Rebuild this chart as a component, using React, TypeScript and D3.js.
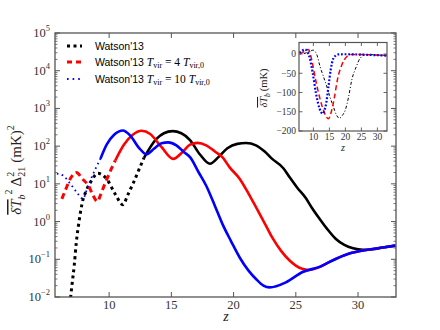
import React from "react";
import * as d3 from "d3";

// ---- Main panel data: z, (δT_b)^2 Δ^2_21 in mK^2 ----
const blackLowZ = [6.9, 7.0, 7.2, 7.36, 7.58, 7.82, 8.16, 8.54, 9.1, 9.8, 10.48, 11.1, 11.5, 11.95, 12.5, 12.8];
const blackLowV = [0.0095, 0.019, 0.071, 0.275, 1.0, 2.95, 6.6, 11.5, 19, 13.5, 5.4, 2.8, 5.1, 10.7, 28.8, 49];
const blackHighZ = [12.8, 13.8, 14.4, 15.1, 15.8, 16.5, 17.3, 18.1, 18.8, 19.5, 20.3, 21.0, 21.8, 22.5, 23.1, 24.0, 24.5, 25.1, 25.8, 26.3, 26.9, 27.5, 28.2, 28.9, 29.6, 30.4, 31.2, 32.0, 33.0];
const blackHighV = [49, 155, 220, 250, 220, 145, 60, 34, 52, 88, 115, 121, 105, 72, 46, 26, 15, 8, 4.2, 2.3, 1.2, 0.65, 0.35, 0.24, 0.195, 0.178, 0.185, 0.205, 0.23];

const redLowZ = [6.2, 6.5, 6.9, 7.36, 7.9, 8.34, 8.7, 9.06, 9.3, 9.6, 9.94, 10.2, 10.5];
const redLowV = [4.0, 7.0, 14, 20, 13, 9, 5, 3.4, 5, 9, 16.6, 26, 42];
const redHighZ = [10.5, 11.2, 11.9, 12.6, 13.3, 14.2, 15.15, 15.9, 16.5, 17.1, 17.8, 18.5, 19.1, 19.7, 20.5, 21.2, 21.8, 22.5, 23.1, 23.8, 24.5, 25.0, 25.5, 26.0, 26.9, 27.5, 28.2, 29.5, 30.9, 32.0, 33.0];
const redHighV = [42, 110, 200, 255, 210, 95, 46, 70, 110, 122, 105, 72, 51, 27, 13.5, 5.5, 2.4, 0.9, 0.38, 0.17, 0.093, 0.068, 0.056, 0.052, 0.062, 0.079, 0.102, 0.148, 0.182, 0.205, 0.23];

const blueLowZ = [5.8, 6.3, 6.88, 7.4, 7.9, 8.26, 8.6, 8.9, 9.3];
const blueLowV = [18.6, 16.6, 10, 6, 4, 8.1, 15, 25, 46];
const blueHighZ = [9.3, 9.8, 10.4, 11.1, 11.7, 12.4, 13.0, 13.6, 14.2, 14.75, 15.4, 16.0, 16.5, 17.2, 17.8, 18.5, 19.1, 19.8, 20.5, 21.2, 21.8, 22.4, 22.9, 24.2, 25.55, 26.9, 28.2, 29.5, 30.9, 32.0, 33.0];
const blueHighV = [46, 110, 200, 260, 190, 90, 61, 85, 120, 126, 105, 70, 51, 20, 8.9, 2.6, 0.87, 0.3, 0.11, 0.05, 0.03, 0.02, 0.018, 0.0245, 0.046, 0.063, 0.102, 0.148, 0.182, 0.205, 0.23];

// ---- Inset data: z, mean δT_b in mK ----
const insetBlackZ = [7, 8, 9, 10, 11, 12.1, 13.2, 14.2, 15.2, 16.25, 17.2, 18.1, 19, 20, 21, 22, 23.4, 24.6, 26.7, 29, 33];
const insetBlackV = [1, 4, 8, 10, 0, -33, -60, -85, -112, -137, -158, -167, -160, -145, -111, -67, -33, -11, -1, -2, -4];
const insetRedZ = [5.8, 6.8, 7.6, 8.4, 9.5, 10.5, 11.9, 13.1, 14.7, 15.75, 16.6, 17.5, 18.9, 20.4, 22, 26, 33];
const insetRedV = [0, 5, 10, 12, -16, -59, -111, -145, -168, -145, -111, -67, -28, -7, -1, -1.5, -4];
const insetBlueZ = [5.6, 6.5, 7.4, 8.1, 8.75, 9.8, 10.8, 11.9, 12.9, 13.5, 14, 14.7, 15.4, 16.25, 17, 17.8, 20, 25, 33];
const insetBlueV = [3, 9, 12, 6, -7, -50, -102, -141, -155, -145, -128, -85, -41, -11, -4, -1, -0.5, -1.5, -4];

// ---- Ticks ----
const xTicks = [10, 15, 20, 25, 30];
const yExps = [-2, -1, 0, 1, 2, 3, 4, 5];
const insetYTicks = [0, -50, -100, -150, -200];

const zip = (zs: number[], vs: number[]) => zs.map((z, i) => [z, vs[i]] as [number, number]);

export default function App() {
  const W = 440, H = 330;
  const L = 55, R = 396, T = 33, B = 297;
  const x = d3.scaleLinear().domain([5.65, 33.05]).range([L, R]);
  const y = d3.scaleLog().domain([1e-2, 1e5]).range([B, T]);

  const line = d3.line<[number, number]>()
    .x(d => x(d[0]))
    .y(d => y(d[1]))
    .curve(d3.curveMonotoneX);

  const iL = 299, iR = 387, iT = 42.5, iB = 131;
  const xi = d3.scaleLinear().domain([5.5, 33]).range([iL, iR]);
  const yi = d3.scaleLinear().domain([-200, 30]).range([iB, iT]);
  const lineI = d3.line<[number, number]>()
    .x(d => xi(d[0]))
    .y(d => yi(d[1]))
    .curve(d3.curveMonotoneX);

  const frame = "#555";
  const tickTxt = "#333";
  const serif = "'Liberation Serif', 'Times New Roman', serif";
  const sans = "'Liberation Sans', Arial, sans-serif";

  const allY = y.ticks();
  const majors = yExps.map(e => Math.pow(10, e));
  const minors = allY.filter(v => !majors.some(m => Math.abs(m - v) / m < 1e-6));

  const legendRows = [
    { y: 46, color: "#000", dash: "3 3.5", w: 3 },
    { y: 62, color: "#ff0000", dash: "5 4", w: 3 },
    { y: 79, color: "#0000ff", dash: "1.6 4", w: 1.8 },
  ];

  return (
    <svg width={W} height={H} style={{ display: "block", position: "absolute", left: 0, top: 0 }}>
      <rect width={W} height={H} fill="#fff" />
      <defs>
        <clipPath id="mainclip">
          <rect x={L} y={T} width={R - L} height={B - T} />
        </clipPath>
        <clipPath id="insetclip">
          <rect x={iL} y={iT} width={iR - iL} height={iB - iT} />
        </clipPath>
      </defs>

      {/* main curves */}
      <g clipPath="url(#mainclip)" fill="none">
        <path d={line(zip(blackLowZ, blackLowV)) || ""} stroke="#000" strokeWidth={3} strokeDasharray="3 3.5" />
        <path d={line(zip(blackHighZ, blackHighV)) || ""} stroke="#000" strokeWidth={2.6} />
        <path d={line(zip(redLowZ, redLowV)) || ""} stroke="#ff0000" strokeWidth={3} strokeDasharray="6 4" />
        <path d={line(zip(redHighZ, redHighV)) || ""} stroke="#ff0000" strokeWidth={2.6} />
        <path d={line(zip(blueLowZ, blueLowV)) || ""} stroke="#0000ff" strokeWidth={1.8} strokeDasharray="1.6 3.4" />
        <path d={line(zip(blueHighZ, blueHighV)) || ""} stroke="#0000ff" strokeWidth={2.6} />
      </g>

      {/* main frame & ticks */}
      <rect x={L} y={T} width={R - L} height={B - T} fill="none" stroke={frame} strokeWidth={1.3} />
      {xTicks.map(t => (
        <g key={"xt" + t}>
          <line x1={x(t)} x2={x(t)} y1={B} y2={B - 5} stroke={frame} strokeWidth={1} />
          <line x1={x(t)} x2={x(t)} y1={T} y2={T + 5} stroke={frame} strokeWidth={1} />
          <text x={x(t)} y={308.5} textAnchor="middle" fontFamily={serif} fontSize={12.5} fill={tickTxt}>{t}</text>
        </g>
      ))}
      {majors.map((v, i) => (
        <g key={"ym" + i}>
          <line x1={L} x2={L + 5} y1={y(v)} y2={y(v)} stroke={frame} strokeWidth={1} />
          <line x1={R} x2={R - 5} y1={y(v)} y2={y(v)} stroke={frame} strokeWidth={1} />
          <text x={50} y={y(v) + 4} textAnchor="end" fontFamily={serif} fontSize={12.5} fill={tickTxt}>
            <tspan>10</tspan>
            <tspan dy={-6} fontSize={8.5}>{yExps[i] < 0 ? "\u2212" + Math.abs(yExps[i]) : String(yExps[i])}</tspan>
          </text>
        </g>
      ))}
      {minors.map((v, i) => (
        <g key={"yn" + i}>
          <line x1={L} x2={L + 2.5} y1={y(v)} y2={y(v)} stroke={frame} strokeWidth={0.8} />
          <line x1={R} x2={R - 2.5} y1={y(v)} y2={y(v)} stroke={frame} strokeWidth={0.8} />
        </g>
      ))}

      {/* axis labels */}
      <text x={226} y={320.5} textAnchor="middle" fontFamily={serif} fontStyle="italic" fontSize={14} fill="#222">z</text>
      <text transform="translate(21,170) rotate(-90)" textAnchor="middle" fontFamily={serif} fontSize={15} fill="#222">
        <tspan fontStyle="italic" style={{ textDecoration: "overline" }}>δT</tspan>
        <tspan fontStyle="italic" fontSize={10} dy={4}>b</tspan>
        <tspan fontSize={10} dy={-13}>2</tspan>
        <tspan dx={3} dy={9}>Δ</tspan>
        <tspan fontSize={10} dy={4}>21</tspan>
        <tspan fontSize={10} dx={-10} dy={-11}>2</tspan>
        <tspan dx={9} dy={7}>(mK)</tspan>
        <tspan fontSize={10} dy={-7}>2</tspan>
      </text>

      {/* legend */}
      {legendRows.map((r, i) => (
        <line key={"lg" + i} x1={67} x2={82} y1={r.y} y2={r.y} stroke={r.color} strokeWidth={r.w} strokeDasharray={r.dash} />
      ))}
      <text x={95} y={50} fontFamily={sans} fontSize={10.5} fill="#000">Watson'13</text>
      <text x={95} y={66} fontFamily={sans} fontSize={10.5} fill="#000">
        Watson'13 <tspan fontFamily={serif} fontStyle="italic" fontSize={11.5}>T</tspan>
        <tspan fontFamily={serif} fontSize={8} dy={2}>vir</tspan>
        <tspan fontFamily={serif} fontSize={11.5} dy={-2}> = 4 </tspan>
        <tspan fontFamily={serif} fontStyle="italic" fontSize={11.5}>T</tspan>
        <tspan fontFamily={serif} fontSize={8} dy={2}>vir,0</tspan>
      </text>
      <text x={95} y={83} fontFamily={sans} fontSize={10.5} fill="#000">
        Watson'13 <tspan fontFamily={serif} fontStyle="italic" fontSize={11.5}>T</tspan>
        <tspan fontFamily={serif} fontSize={8} dy={2}>vir</tspan>
        <tspan fontFamily={serif} fontSize={11.5} dy={-2}> = 10 </tspan>
        <tspan fontFamily={serif} fontStyle="italic" fontSize={11.5}>T</tspan>
        <tspan fontFamily={serif} fontSize={8} dy={2}>vir,0</tspan>
      </text>

      {/* inset */}
      <rect x={iL} y={iT} width={iR - iL} height={iB - iT} fill="#fff" />
      <g clipPath="url(#insetclip)" fill="none">
        <path d={lineI(zip(insetBlackZ, insetBlackV)) || ""} stroke="#000" strokeWidth={1} strokeDasharray="3 2 1 2" />
        <path d={lineI(zip(insetRedZ, insetRedV)) || ""} stroke="#ff0000" strokeWidth={1.5} strokeDasharray="5 3" />
        <path d={lineI(zip(insetBlueZ, insetBlueV)) || ""} stroke="#0000ff" strokeWidth={2.2} strokeDasharray="1.8 1.8" />
      </g>
      <rect x={iL} y={iT} width={iR - iL} height={iB - iT} fill="none" stroke={frame} strokeWidth={1.2} />
      {xTicks.map(t => (
        <g key={"ixt" + t}>
          <line x1={xi(t)} x2={xi(t)} y1={iB} y2={iB - 3.5} stroke={frame} strokeWidth={0.9} />
          <line x1={xi(t)} x2={xi(t)} y1={iT} y2={iT + 3.5} stroke={frame} strokeWidth={0.9} />
          <text x={xi(t)} y={140} textAnchor="middle" fontFamily={serif} fontSize={9.5} fill={tickTxt}>{t}</text>
        </g>
      ))}
      {insetYTicks.map(t => (
        <g key={"iyt" + t}>
          <line x1={iL} x2={iL + 3.5} y1={yi(t)} y2={yi(t)} stroke={frame} strokeWidth={0.9} />
          <line x1={iR} x2={iR - 3.5} y1={yi(t)} y2={yi(t)} stroke={frame} strokeWidth={0.9} />
          <text x={296} y={yi(t) + 3.3} textAnchor="end" fontFamily={serif} fontSize={9.5} fill={tickTxt}>
            {t < 0 ? "\u2212" + Math.abs(t) : String(t)}
          </text>
        </g>
      ))}
      <text x={343} y={150.5} textAnchor="middle" fontFamily={serif} fontStyle="italic" fontSize={10} fill="#222">z</text>
      <text transform="translate(267,88) rotate(-90)" textAnchor="middle" fontFamily={serif} fontSize={10.5} fill="#222">
        <tspan fontStyle="italic" style={{ textDecoration: "overline" }}>δT</tspan>
        <tspan fontStyle="italic" fontSize={7.5} dy={2.5}>b</tspan>
        <tspan dx={2} dy={-2.5}>(mK)</tspan>
      </text>
    </svg>
  );
}
